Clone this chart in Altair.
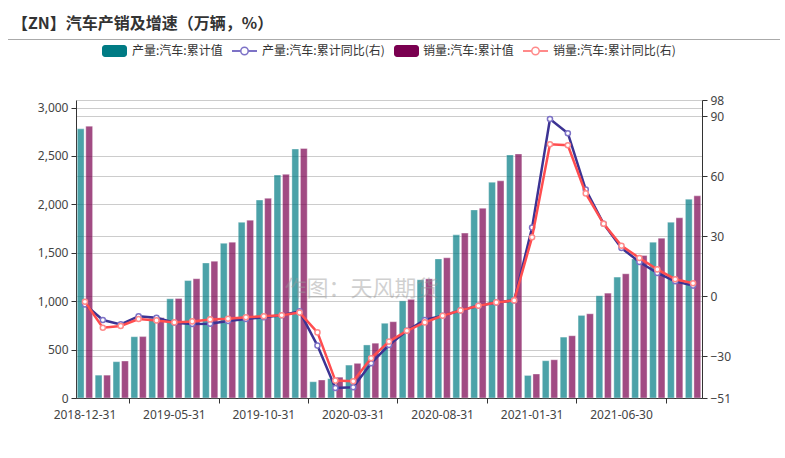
import altair as alt
import pandas as pd

# ---------------- data ----------------
dates = ["2018-12-31", "2019-01-31", "2019-02-28", "2019-03-31", "2019-04-30", "2019-05-31",
         "2019-06-30", "2019-07-31", "2019-08-31", "2019-09-30", "2019-10-31", "2019-11-30",
         "2019-12-31", "2020-01-31", "2020-02-29", "2020-03-31", "2020-04-30", "2020-05-31",
         "2020-06-30", "2020-07-31", "2020-08-31", "2020-09-30", "2020-10-31", "2020-11-30",
         "2020-12-31", "2021-01-31", "2021-02-28", "2021-03-31", "2021-04-30", "2021-05-31",
         "2021-06-30", "2021-07-31", "2021-08-31", "2021-09-30", "2021-10-31"]

prod_cum = [2780, 236, 375, 633, 822, 1025, 1213, 1395, 1598, 1815, 2045, 2303, 2572,
            168, 200, 340, 548, 772, 1003, 1221, 1437, 1685, 1943, 2229, 2511,
            233, 385, 629, 853, 1056, 1249, 1437, 1610, 1816, 2054]
sales_cum = [2808, 236, 382, 634, 830, 1028, 1232, 1413, 1610, 1837, 2063, 2310, 2577,
             186, 215, 358, 566, 788, 1019, 1231, 1448, 1703, 1960, 2243, 2521,
             248, 395, 643, 870, 1083, 1283, 1472, 1651, 1861, 2088]
prod_yoy = [-4.2, -12.0, -14.2, -10.1, -10.9, -13.4, -14.0, -13.9, -12.5, -11.5, -10.6, -9.6, -7.7,
            -24.8, -46.0, -45.6, -33.6, -24.5, -17.4, -12.0, -9.9, -7.2, -4.9, -3.2, -2.2,
            34.2, 88.5, 81.4, 53.2, 36.1, 24.0, 17.0, 11.5, 7.4, 5.2]
sales_yoy = [-2.9, -15.9, -15.0, -11.5, -12.2, -13.2, -12.7, -11.7, -11.4, -10.6, -10.1, -9.6, -8.3,
             -18.2, -42.3, -42.6, -31.1, -22.8, -17.4, -13.2, -9.9, -7.2, -4.9, -3.2, -2.2,
             29.4, 75.9, 75.4, 51.3, 36.1, 25.1, 19.0, 13.3, 8.4, 6.4]

series_names = ["产量:汽车:累计值", "产量:汽车:累计同比(右)", "销量:汽车:累计值", "销量:汽车:累计同比(右)"]
title_text = "【ZN】汽车产销及增速（万辆，%）"
watermark = "作图：天风期货"
left_ticks = [0, 500, 1000, 1500, 2000, 2500, 3000]
right_ticks = [-51, -30, 0, 30, 60, 90, 98]

# ---------------- styling ----------------
FONT = "Noto Sans CJK SC"
NUM_FONT = "Noto Sans"
TEAL = "#007b84"
PURPLE = "#7a0050"
PROD_LINE = "#3c3393"
PROD_PT = "#7d72c6"
SALES_LINE = "#ff4d4f"
SALES_PT = "#ff8a8a"

bars_df = pd.DataFrame({
    "date": dates * 2,
    "series": [series_names[0]] * len(dates) + [series_names[2]] * len(dates),
    "value": prod_cum + sales_cum,
})
prod_df = pd.DataFrame({"date": dates, "yoy": prod_yoy})
sales_df = pd.DataFrame({"date": dates, "yoy": sales_yoy})

xscale = alt.Scale(domain=dates, paddingInner=0, paddingOuter=0)

bars = alt.Chart(bars_df).mark_bar(opacity=0.7, stroke="white", strokeWidth=0.6, strokeOpacity=0.6).encode(
    x=alt.X("date:O", scale=xscale, sort=dates,
            axis=alt.Axis(values=dates[0::5], ticks=False, labelAngle=0, title=None, orient="bottom",
                          grid=False, domainColor="#333", labelPadding=11, labelFontSize=12,
                          labelColor="#444", labelFont=NUM_FONT)),
    xOffset=alt.XOffset("series:N", sort=[series_names[0], series_names[2]],
                        scale=alt.Scale(domain=[series_names[0], series_names[2]],
                                        paddingInner=0.2, paddingOuter=0.15)),
    y=alt.Y("value:Q", scale=alt.Scale(domain=[0, 3078], nice=False),
            axis=alt.Axis(values=left_ticks, format=",.0f", title=None, orient="left", grid=True,
                          gridColor="#cccccc", tickSize=5, labelPadding=3, domainColor="#333",
                          tickColor="#333", labelColor="#444", labelFontSize=12,
                          labelFont=NUM_FONT)),
    color=alt.Color("series:N", scale=alt.Scale(domain=[series_names[0], series_names[2]],
                                                range=[TEAL, PURPLE]), legend=None),
)

yscale_r = alt.Scale(domain=[-51, 98], nice=False, zero=False)
x_tick = alt.X("date:O", scale=xscale, sort=dates,
               axis=alt.Axis(values=dates[3::5], bandPosition=0, labels=False, ticks=True,
                             tickSize=5, tickColor="#333", domain=False, grid=False,
                             orient="bottom", title=None))
y_right = alt.Y("yoy:Q", scale=yscale_r,
                axis=alt.Axis(values=right_ticks, format="d", orient="right", title=None, grid=True,
                              gridColor="#cccccc", tickSize=5, labelPadding=3, domainColor="#333",
                              tickColor="#333", labelColor="#444", labelFontSize=12,
                              labelFont=NUM_FONT))


def series_layers(df, line_col, pt_col):
    ln = alt.Chart(df).mark_line(color=line_col, strokeWidth=2.5).encode(x=x_tick, y=y_right)
    pt = alt.Chart(df).mark_point(shape="circle", filled=True, fill="white", stroke=pt_col,
                                  strokeWidth=1.5, size=26, opacity=1).encode(x=x_tick, y=y_right)
    return [ln, pt]


lines = alt.layer(*series_layers(prod_df, PROD_LINE, PROD_PT),
                  *series_layers(sales_df, SALES_LINE, SALES_PT))

# ---------------- decorations (title, rule, legend, watermark) ----------------
one = pd.DataFrame({"k": [0]})
base = alt.Chart(one)

title = base.mark_text(text=title_text, align="left", baseline="middle", fontSize=16,
                       fontWeight="bold", color="#333", font=FONT).encode(
    x=alt.value(-64), y=alt.value(-76))
hr = base.mark_rule(color="#aaaaaa", strokeWidth=1).encode(
    x=alt.value(-68), x2=alt.value(704), y=alt.value(-60.5))

leg_y = -49
legend_layers = []
for x0, col in [(26, TEAL), (318, PURPLE)]:
    legend_layers.append(base.mark_rect(color=col, cornerRadius=3).encode(
        x=alt.value(x0), x2=alt.value(x0 + 25), y=alt.value(leg_y - 6), y2=alt.value(leg_y + 6)))
for x0, col in [(156, PROD_PT), (447, SALES_PT)]:
    legend_layers.append(base.mark_rule(color=col, strokeWidth=2).encode(
        x=alt.value(x0), x2=alt.value(x0 + 25), y=alt.value(leg_y)))
    legend_layers.append(base.mark_point(shape="circle", filled=True, fill="white", stroke=col,
                                         strokeWidth=1.5, size=55, opacity=1).encode(
        x=alt.value(x0 + 12.5), y=alt.value(leg_y)))
for x0, txt in [(56, series_names[0]), (186, series_names[1]), (347, series_names[2]),
                (477, series_names[3])]:
    legend_layers.append(base.mark_text(text=txt, align="left", baseline="middle", fontSize=12,
                                        color="#333", font=FONT).encode(
        x=alt.value(x0), y=alt.value(leg_y)))

wm = base.mark_text(text=watermark, align="center", baseline="middle", fontSize=22,
                    color="#999999", opacity=0.45, font=FONT).encode(
    x=alt.value(285.5), y=alt.value(189))

chart = alt.layer(bars, lines, wm, title, hr, *legend_layers).resolve_scale(
    y="independent"
).resolve_axis(
    x="independent", y="independent"
).properties(
    width=626,
    height=298,
    autosize=alt.AutoSizeParams(type="none"),
    padding={"left": 76, "top": 100, "right": 83, "bottom": 60},
    background="white",
).configure(font=FONT).configure_view(stroke=None)

chart.save("out.html", embed_options={"renderer": "svg", "actions": False})
